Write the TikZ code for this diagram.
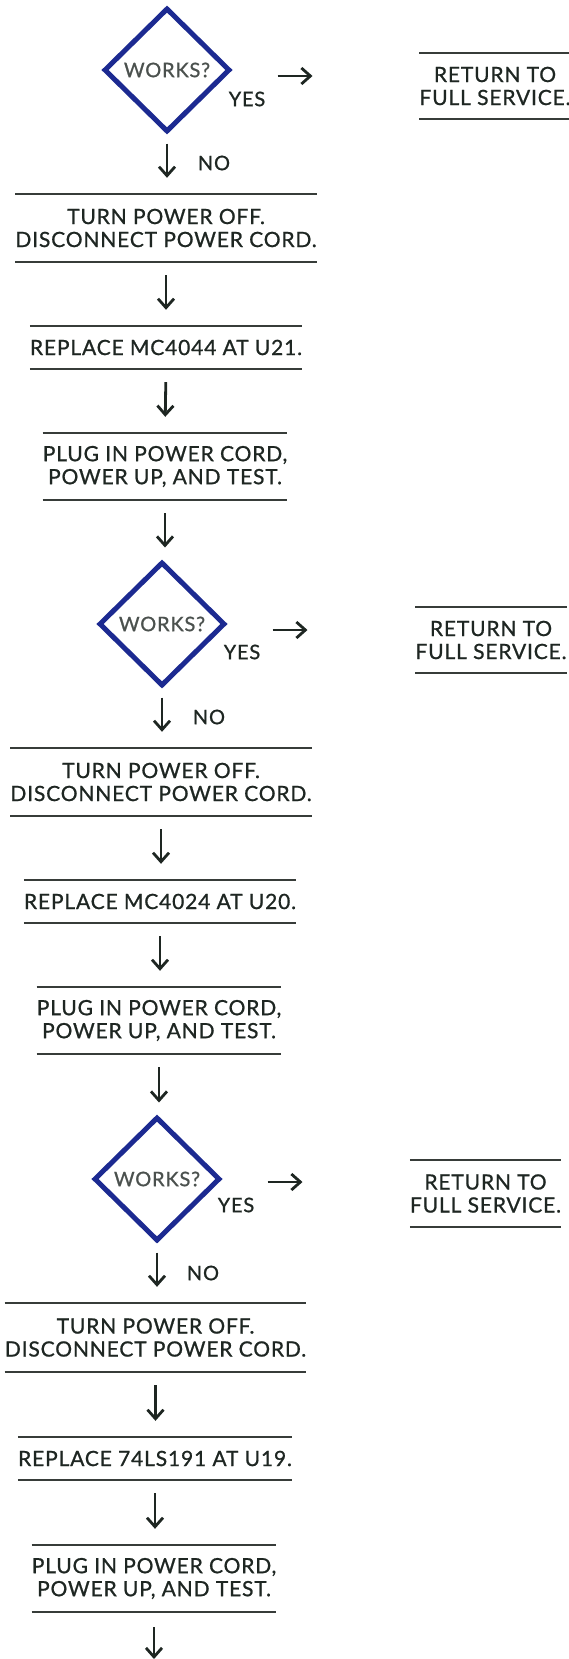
\documentclass[tikz,border=0pt]{standalone}
\usepackage{fontspec}
\setmainfont{Lato}[LetterSpace=4, FakeBold=0.9]
\usetikzlibrary{shapes.geometric,arrows.meta,calc}
\definecolor{ink}{RGB}{30,38,34}
\definecolor{rulec}{RGB}{55,60,57}
\definecolor{dblue}{RGB}{28,42,145}
\newcommand\ruled[1]{\draw[rl] (#1.north west) -- (#1.north east); \draw[rl] (#1.south west) -- (#1.south east);}
\begin{document}
\begin{tikzpicture}[x=1pt,y=-1pt,
  txt/.style={font=\fontsize{21}{23}\selectfont, text=ink, align=center, inner sep=0pt},
  lbl/.style={font=\fontsize{20}{22}\selectfont, text=ink, inner sep=0pt},
  dec/.style={diamond, draw=dblue, line width=5pt, minimum width=126pt, minimum height=124pt, inner sep=0pt, text=ink!80, font=\fontsize{20}{22}\selectfont},
  rl/.style={draw=rulec, line width=1.6pt},
  arr/.style={draw=ink, line width=2.8pt, -{Straight Barb[length=9pt,width=16pt]}},
  down/.style={arr, shorten <=13pt, shorten >=16pt},
]
\useasboundingbox (0,0) rectangle (568,1659);

% ---------- block 1 ----------
\node[dec] (d1) at (167,70) {WORKS?};
\node[lbl] (yes1) at (247,99) {YES};
\node[txt, minimum width=146pt, minimum height=66pt] (r1) at (495,86) {RETURN TO\\FULL SERVICE.};
\ruled{r1}
\draw[arr] ([xshift=45pt,yshift=-6pt]d1.east) -- ++(35,0);
\node[txt, minimum width=300pt, minimum height=68pt] (t1) at (166,228) {TURN POWER OFF.\\DISCONNECT POWER CORD.};
\ruled{t1}
\draw[down, shorten <=9pt] (d1.south) -- (d1.south |- t1.north);
\node[lbl] (no1) at (214,163) {NO};
\node[txt, minimum width=256pt, minimum height=43pt] (b1) at (166,347.5) {REPLACE MC4044 AT U21.};
\ruled{b1}
\draw[down] (t1.south) -- (b1.north);
\node[txt, minimum width=236pt, minimum height=67pt] (p1) at (165,466.5) {PLUG IN POWER CORD,\\POWER UP, AND TEST.};
\ruled{p1}
\draw[down] (b1.south) -- (p1.north);

% ---------- block 2 ----------
\node[dec] (d2) at (162,624) {WORKS?};
\draw[down, shorten >=12pt] (p1.south) -- (p1.south |- d2.north);
\node[lbl] (yes2) at (242,652) {YES};
\node[txt, minimum width=146pt, minimum height=66pt] (r2) at (491,640) {RETURN TO\\FULL SERVICE.};
\ruled{r2}
\draw[arr] ([xshift=45pt,yshift=-6pt]d2.east) -- ++(35,0);
\node[txt, minimum width=300pt, minimum height=68pt] (t2) at (161,782) {TURN POWER OFF.\\DISCONNECT POWER CORD.};
\ruled{t2}
\draw[down, shorten <=9pt] (d2.south) -- (d2.south |- t2.north);
\node[lbl] (no2) at (209,717) {NO};
\node[txt, minimum width=256pt, minimum height=43pt] (b2) at (160,901.5) {REPLACE MC4024 AT U20.};
\ruled{b2}
\draw[down] (t2.south) -- (t2.south |- b2.north);
\node[txt, minimum width=239pt, minimum height=67pt] (p2) at (159,1020.5) {PLUG IN POWER CORD,\\POWER UP, AND TEST.};
\ruled{p2}
\draw[down] (b2.south) -- (b2.south |- p2.north);

% ---------- block 3 ----------
\node[dec] (d3) at (157,1179) {WORKS?};
\draw[down, shorten >=12pt] (p2.south) -- (p2.south |- d3.north);
\node[lbl] (yes3) at (236,1205) {YES};
\node[txt, minimum width=149pt, minimum height=67pt] (r3) at (485.5,1193.5) {RETURN TO\\FULL SERVICE.};
\ruled{r3}
\draw[arr] ([xshift=45pt,yshift=-3pt]d3.east) -- ++(35,0);
\node[txt, minimum width=301pt, minimum height=69pt] (t3) at (155.5,1337.5) {TURN POWER OFF.\\DISCONNECT POWER CORD.};
\ruled{t3}
\draw[down, shorten <=9pt] (d3.south) -- (d3.south |- t3.north);
\node[lbl] (no3) at (203,1273) {NO};
\node[txt, minimum width=256pt, minimum height=43pt] (b3) at (155,1458.5) {REPLACE 74LS191 AT U19.};
\ruled{b3}
\draw[down] (t3.south) -- (t3.south |- b3.north);
\node[txt, minimum width=236pt, minimum height=67pt] (p3) at (154,1578.5) {PLUG IN POWER CORD,\\POWER UP, AND TEST.};
\ruled{p3}
\draw[down] (b3.south) -- (b3.south |- p3.north);
\coordinate (end3) at (154,1659);
\draw[arr, shorten <=15pt] (p3.south) -- (end3);
\end{tikzpicture}
\end{document}
